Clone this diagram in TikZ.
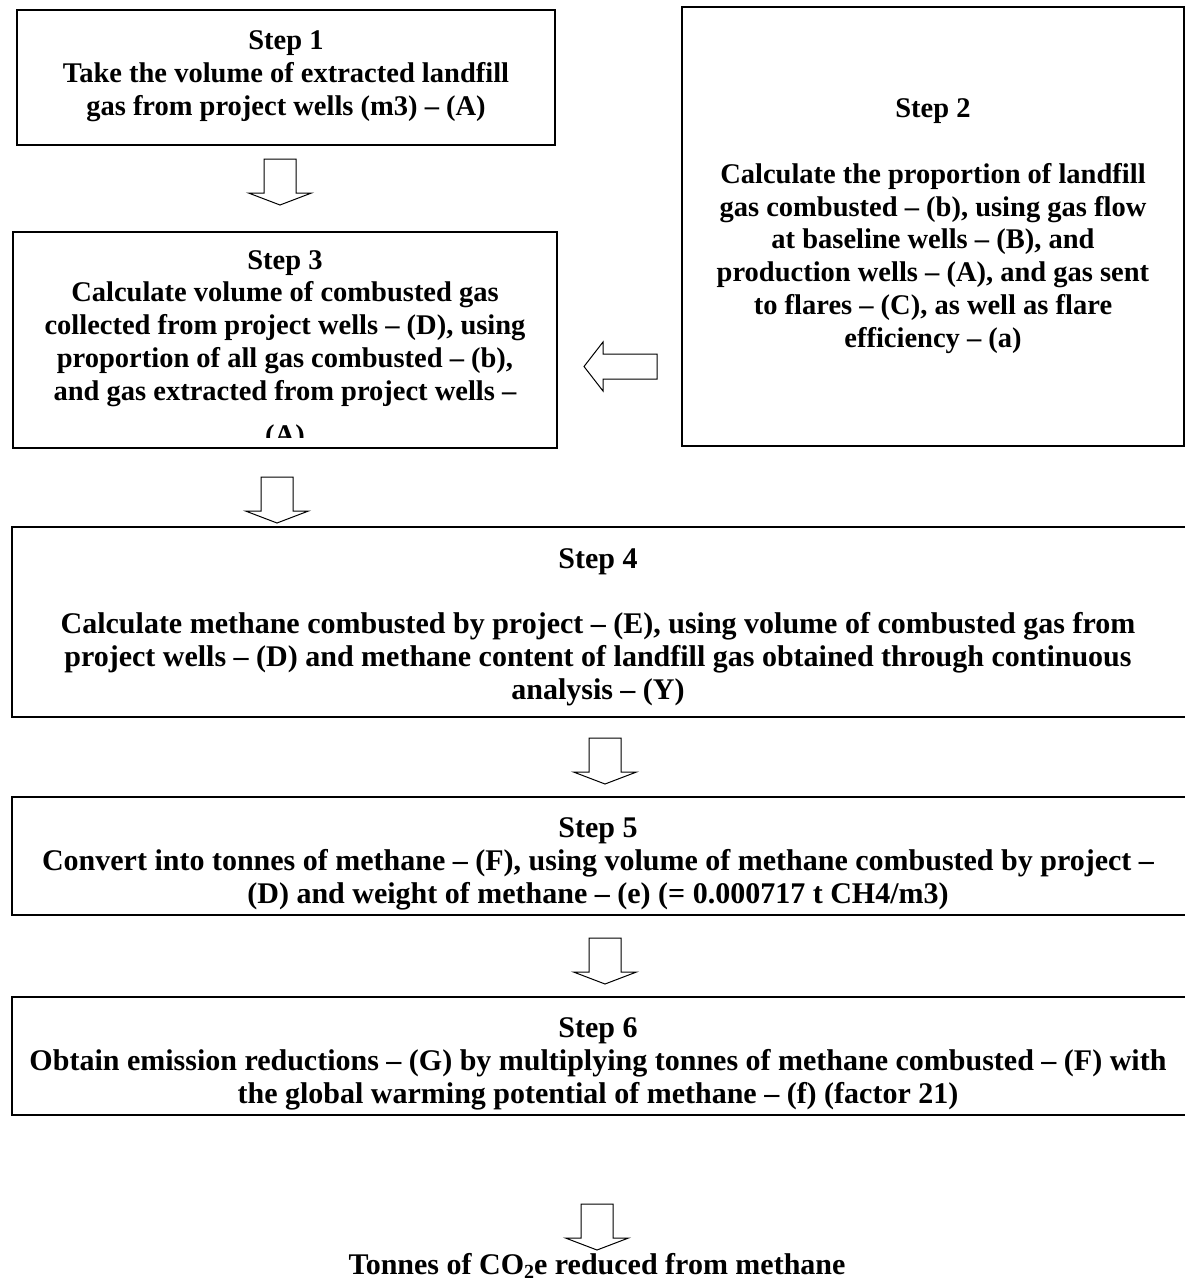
\documentclass[tikz,border=0pt]{standalone}
\usepackage{fontspec}
\setmainfont{Liberation Serif}
\begin{document}
\begin{tikzpicture}[x=1pt,y=-1pt,
  box/.style={draw=black,line width=2pt},
  txt/.style={font=\bfseries\fontsize{28.5}{32.8}\selectfont,align=center,inner sep=0pt},
  wtxt/.style={font=\bfseries\fontsize{30}{32.8}\selectfont,align=center,inner sep=0pt},
  blockarrow/.style={draw=black,line width=1pt,fill=white,line join=miter}]
\useasboundingbox (0,0) rectangle (1185,1283);
% boxes
\draw[box] (17,10) rectangle (555,145);
\draw[box] (682,7) rectangle (1184,446);
\draw[box] (13,232) rectangle (557,448);
\draw[box] (12,527) rectangle (1190,717);
\draw[box] (12,797) rectangle (1190,915);
\draw[box] (12,997) rectangle (1190,1115);
% texts
\node[txt] (s1) at (286,76) {Step 1\\Take the volume of extracted landfill\\gas from project wells (m3) – (A)};
\node[txt] (s2) at (933,226) {Step 2\\[33pt]Calculate the proportion of landfill\\gas combusted – (b), using gas flow\\at baseline wells – (B), and\\production wells – (A), and gas sent\\to flares – (C), as well as flare\\efficiency – (a)};
\begin{scope}
\clip (14,233) rectangle (556,437);
\node[txt,anchor=north] (s3) at (285,250) {Step 3\\Calculate volume of combusted gas\\collected from project wells – (D), using\\proportion of all gas combusted – (b),\\and gas extracted from project wells –\\[11pt](A)};
\end{scope}
\node[wtxt] (s4) at (598,627) {Step 4\\[33pt]Calculate methane combusted by project – (E), using volume of combusted gas from\\project wells – (D) and methane content of landfill gas obtained through continuous\\analysis – (Y)};
\node[wtxt] (s5) at (598,864) {Step 5\\Convert into tonnes of methane – (F), using volume of methane combusted by project –\\(D) and weight of methane – (e) (= 0.000717 t CH4/m3)};
\node[wtxt] (s6) at (598,1064) {Step 6\\Obtain emission reductions – (G) by multiplying tonnes of methane combusted – (F) with\\the global warming potential of methane – (f) (factor 21)};
\node[wtxt] (res) at (597,1266) {Tonnes of CO\raisebox{-3.5pt}{\fontsize{20}{20}\selectfont 2}e reduced from methane};
% block arrows
\foreach \x/\y in {280/159, 277/477, 605/738, 605/938, 597/1204}{
  \draw[blockarrow] (\x-16,\y) -- (\x+16,\y) -- (\x+16,\y+34) -- (\x+31.5,\y+34) -- (\x,\y+46) -- (\x-31.5,\y+34) -- (\x-16,\y+34) -- cycle;
}
\draw[blockarrow] (657,354) -- (657,379) -- (603,379) -- (603,391) -- (584,366.5) -- (603,342) -- (603,354) -- cycle;
\end{tikzpicture}
\end{document}
